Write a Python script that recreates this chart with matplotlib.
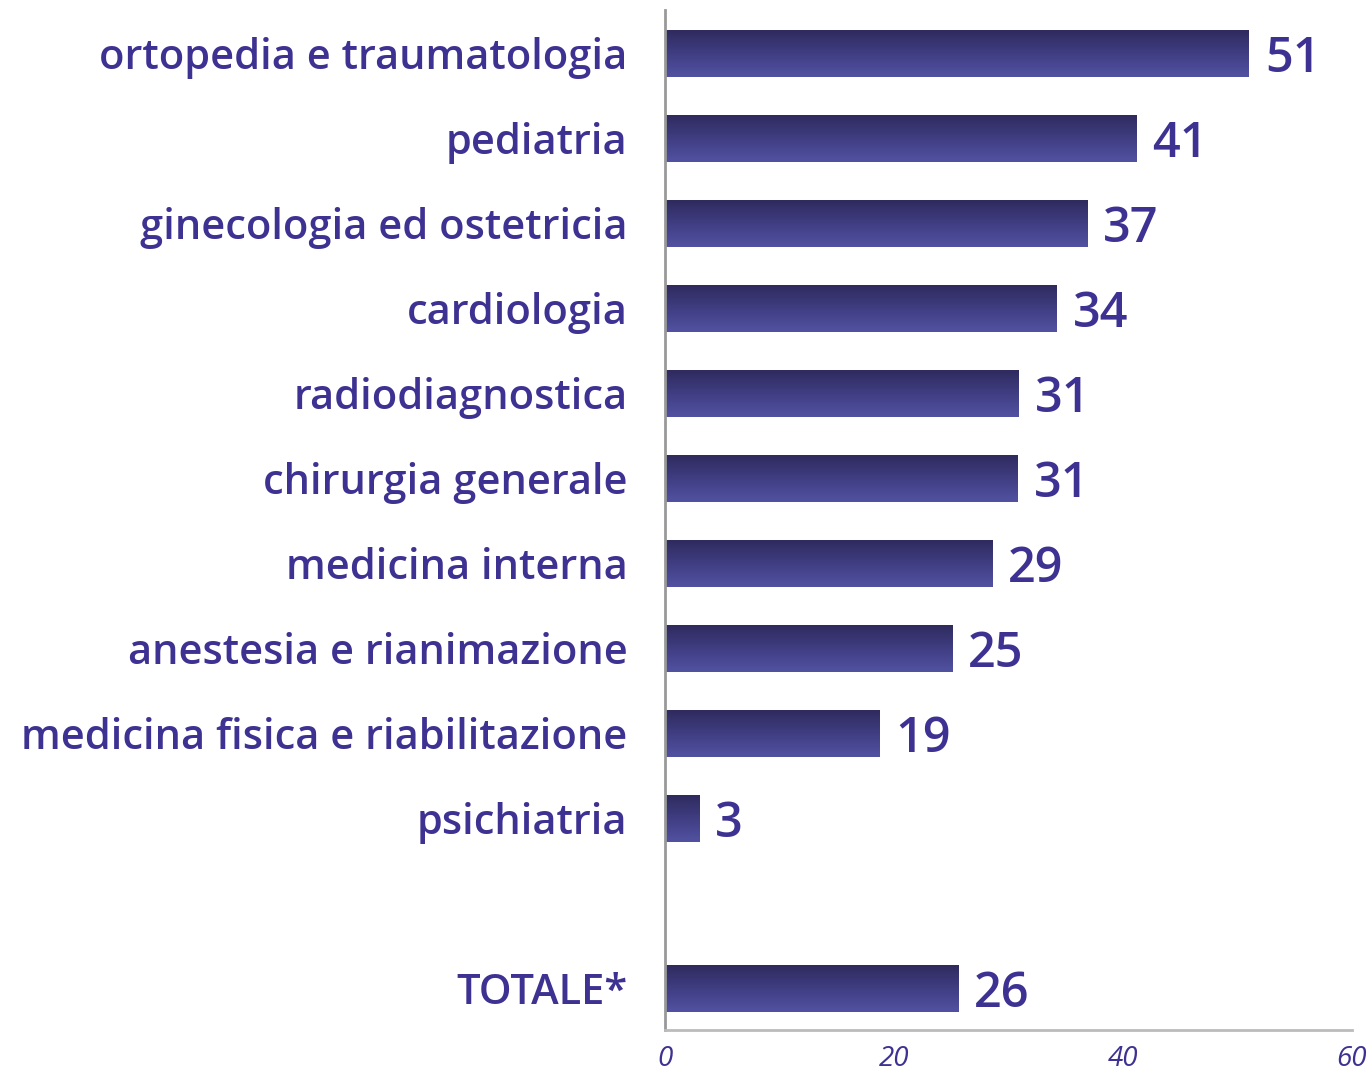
import matplotlib
matplotlib.use('Agg')
import matplotlib.pyplot as plt
import numpy as np
from matplotlib.colors import LinearSegmentedColormap

categories = ['ortopedia e traumatologia', 'pediatria',
              'ginecologia ed ostetricia', 'cardiologia', 'radiodiagnostica',
              'chirurgia generale', 'medicina interna',
              'anestesia e rianimazione', 'medicina fisica e riabilitazione',
              'psichiatria', 'TOTALE*']
values = [51.0, 41.2, 36.9, 34.2, 30.9, 30.8, 28.6, 25.1, 18.7, 3.0, 25.6]
value_labels = ['51', '41', '37', '34', '31', '31', '29', '25', '19', '3', '26']
positions = [0, 1, 2, 3, 4, 5, 6, 7, 8, 9, 11]
x_ticks = [0, 20, 40, 60]

text_color = '#3d3192'
grad = LinearSegmentedColormap.from_list('bar', ['#2e2a5c', '#403d82', '#5252a2'])

fig = plt.figure(figsize=(13.71, 10.77), dpi=100)
ax = fig.add_axes([0.485, 0.0436, 0.501, 0.947])

bars = ax.barh(positions, values, height=0.56, color='none', edgecolor='none')
ax.set_xlim(0, 60)
ax.set_ylim(11.49, -0.51)

gradient = np.linspace(0, 1, 256).reshape(-1, 1)
for b in bars:
    x0, y0 = b.get_x(), b.get_y()
    w, h = b.get_width(), b.get_height()
    im = ax.imshow(gradient, cmap=grad, aspect='auto',
                   extent=[x0, x0 + w, y0 + h, y0], zorder=2)
    im.set_clip_path(b)

for p, v, lab in zip(positions, values, value_labels):
    ax.text(v + 1.4, p + 0.07, lab, ha='left', va='center', fontsize=35,
            fontweight='semibold', color=text_color, family='Open Sans')

ax.set_yticks(positions)
ax.set_yticklabels(categories, fontsize=30, color=text_color,
                   family='Open Sans', fontweight='semibold')
ax.set_xticks(x_ticks)
ax.set_xticklabels([str(t) for t in x_ticks], fontsize=20, color=text_color,
                   style='italic', family='Open Sans')
ax.tick_params(axis='y', length=0, pad=27)
ax.tick_params(axis='x', length=0, pad=11)

ax.spines['top'].set_visible(False)
ax.spines['right'].set_visible(False)
ax.spines['left'].set_color('#999999')
ax.spines['left'].set_linewidth(2)
ax.spines['bottom'].set_color('#bbbbbb')
ax.spines['bottom'].set_linewidth(2)

fig.savefig('out.png', dpi=100)
